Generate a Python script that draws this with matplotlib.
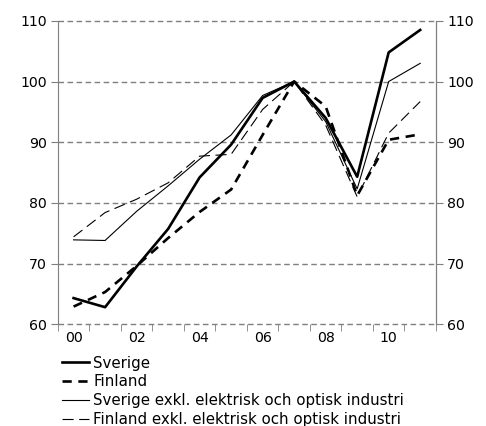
import matplotlib
matplotlib.use('Agg')
import matplotlib.pyplot as plt
import numpy as np

# data (index, 2007 = 100)
years = ['00', '01', '02', '03', '04', '05', '06', '07', '08', '09', '10', '11']
sverige = [64.3, 62.8, 69.5, 75.7, 84.2, 89.6, 97.3, 100.0, 94.0, 84.3, 104.8, 108.5]
finland = [62.9, 65.3, 69.6, 74.2, 78.5, 82.2, 91.2, 100.0, 95.9, 81.2, 90.4, 91.3]
sverige_exkl = [73.9, 73.8, 78.6, 82.8, 87.2, 91.2, 97.7, 100.0, 93.4, 82.3, 100.0, 103.0]
finland_exkl = [74.4, 78.4, 80.6, 83.3, 87.7, 88.0, 95.4, 100.0, 92.8, 81.0, 91.5, 96.7]

labels = ['Sverige', 'Finland',
          'Sverige exkl. elektrisk och optisk industri',
          'Finland exkl. elektrisk och optisk industri']

plt.rcParams['font.family'] = ['DejaVu Sans']
plt.rcParams['font.size'] = 10.2

fig = plt.figure(figsize=(4.86, 4.26), dpi=100)
ax = fig.add_axes([0.119, 0.239, 0.778, 0.712])

x = np.arange(len(years)) + 0.5
grey = '#7f7f7f'

# gridlines
for v in range(60, 111, 10):
    ax.axhline(v, color=grey, lw=1.0, ls=(0, (4, 2.5)), zorder=1, clip_on=False)

l1, = ax.plot(x, sverige, color='black', lw=1.9, zorder=3)
l2, = ax.plot(x, finland, color='black', lw=1.9, ls=(0, (3.5, 2.5)), zorder=3)
l3, = ax.plot(x, sverige_exkl, color='black', lw=0.8, zorder=3)
l4, = ax.plot(x, finland_exkl, color='black', lw=0.8, ls=(0, (10, 5)), zorder=3)

ax.set_xlim(0, 12)
ax.set_ylim(60, 110)
ax.set_yticks(range(60, 111, 10))

# ticks on year boundaries, labels every other year
ax.set_xticks(np.arange(0, 13), minor=True)
ax.set_xticks(x[::2])
ax.set_xticklabels(years[::2])
ax.tick_params(axis='x', which='major', length=0, pad=5)
ax.tick_params(axis='x', which='minor', length=5, color=grey, direction='out')
ax.tick_params(axis='y', length=5, color=grey, direction='out', pad=3)

for s in ['top', 'bottom']:
    ax.spines[s].set_visible(False)
ax.spines['left'].set_color(grey)
ax.spines['right'].set_color(grey)

ax2 = ax.twinx()
ax2.set_ylim(60, 110)
ax2.set_yticks(range(60, 111, 10))
ax2.tick_params(axis='y', length=5, color=grey, direction='out', pad=3)
for s in ['top', 'bottom', 'left']:
    ax2.spines[s].set_visible(False)
ax2.spines['right'].set_color(grey)

fig.legend([l1, l2, l3, l4], labels, loc='upper left',
           bbox_to_anchor=(0.128, 0.165), frameon=False,
           handlelength=1.8, handletextpad=0.27, labelspacing=0.25,
           borderaxespad=0, borderpad=0, fontsize=10.8)

fig.savefig('out.png', dpi=100)
